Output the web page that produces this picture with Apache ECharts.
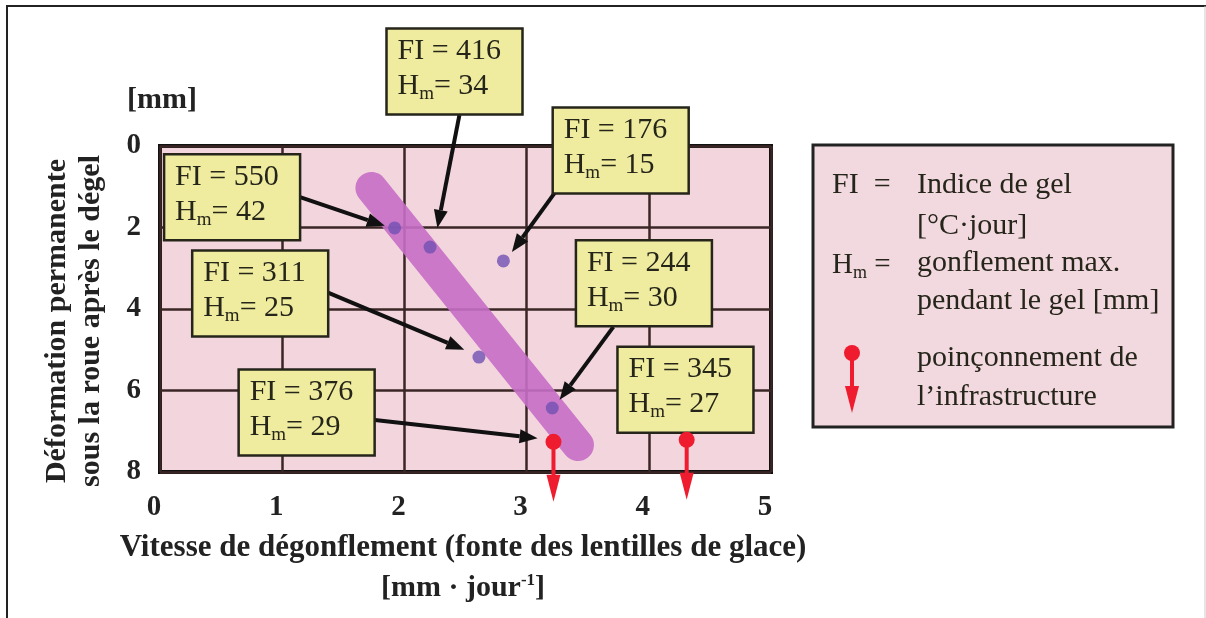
<!DOCTYPE html>
<html>
<head>
    <meta charset="utf-8">
    <title>Déformation permanente et vitesse de dégonflement</title>
    <style>
        html, body { margin: 0; padding: 0; background: #fff; }
        #chart1 { width: 1206px; height: 618px; }
    </style>
</head>
<body>
<div id="chart1"></div>
<script src="https://cdn.jsdelivr.net/npm/echarts@6/dist/echarts.min.js"></script>
<script type="text/javascript">
    // sites mesurés : vitesse de dégonflement [mm/jour], déformation permanente [mm]
    const vitesse = [1.92, 2.21, 2.81, 2.61, 3.21, 3.22, 4.31];
    const deformation = [2.01, 2.48, 2.82, 5.18, 6.43, 7.26, 7.21];
    const indiceGel = [550, 416, 176, 311, 244, 376, 345];
    const gonflementMax = [42, 34, 15, 25, 30, 29, 27];
    const poinconnement = [false, false, false, false, false, true, true];

    // bande de tendance (deux extrémités)
    const bandeX = [1.73, 3.42];
    const bandeY = [1.03, 7.34];

    // placement des étiquettes (en unités des axes)
    const boxPos = [[0.59, 1.26], [2.41, -1.83], [3.77, 0.11], [0.82, 3.62], [3.96, 3.37], [1.20, 6.54], [4.30, 5.98]];
    const arrowFrom = [[1.14, 1.25], [2.45, -0.76], [3.23, 1.15], [1.36, 3.58], [3.71, 4.44], [1.74, 6.72], null];
    const arrowTo = [[1.84, 1.96], [2.27, 2.01], [2.88, 2.60], [2.49, 5.0], [3.27, 6.23], [3.09, 7.17], null];

    const serif = '"Liberation Serif", "Times New Roman", serif';
    const ink = '#26251a';

    let myChart1 = echarts.init(document.getElementById('chart1'));

    // flèche rouge : poinçonnement de l'infrastructure
    function punchShape(x, y) {
        return [
            {type: 'rect', shape: {x: x - 2, y: y + 4, width: 4, height: 32}, style: {fill: '#ee1c2e'}},
            {type: 'polygon', shape: {points: [[x - 7, y + 33], [x + 7, y + 33], [x, y + 60]]}, style: {fill: '#ee1c2e'}},
            {type: 'circle', shape: {cx: x, cy: y, r: 8}, style: {fill: '#ee1c2e'}}
        ];
    }

    function hmRich(size) {
        return {
            t: {fontSize: size, lineHeight: size + 5, fontFamily: serif, fill: ink},
            s: {fontSize: Math.round(size * 0.63), lineHeight: 14, verticalAlign: 'bottom', fontFamily: serif, fill: ink}
        };
    }

    function drawNote(params, api) {
        const i = params.dataIndex;
        const c = api.coord(boxPos[i]);
        const w = 136, h = 86;
        const children = [];
        if (arrowFrom[i]) {
            const a = api.coord(arrowFrom[i]);
            const b = api.coord(arrowTo[i]);
            const ang = Math.atan2(b[1] - a[1], b[0] - a[0]);
            const L = 18, W = 7;
            const bx = b[0] - L * Math.cos(ang), by = b[1] - L * Math.sin(ang);
            children.push({type: 'line', shape: {x1: a[0], y1: a[1], x2: bx, y2: by}, style: {stroke: '#111', lineWidth: 4}});
            children.push({
                type: 'polygon',
                shape: {points: [b, [bx + W * Math.sin(ang), by - W * Math.cos(ang)], [bx - W * Math.sin(ang), by + W * Math.cos(ang)]]},
                style: {fill: '#111'}
            });
        }
        children.push({
            type: 'rect',
            shape: {x: c[0] - w / 2, y: c[1] - h / 2, width: w, height: h},
            style: {fill: '#efec9f', stroke: ink, lineWidth: 2.5}
        });
        children.push({
            type: 'text',
            x: c[0] - w / 2 + 11,
            y: c[1] - h / 2 + 5,
            style: {
                text: '{t|FI = ' + indiceGel[i] + '}\n{t|H}{s|m}{t|= ' + gonflementMax[i] + '}',
                rich: hmRich(30),
                fill: ink
            }
        });
        return {type: 'group', children: children};
    }

    function drawPunch(params, api) {
        const p = api.coord([api.value(0), api.value(1)]);
        return {type: 'group', children: punchShape(p[0], p[1])};
    }

    const sites = vitesse.map((v, i) => [v, deformation[i]]);
    const legendFont = '30px ' + serif;

    myChart1.setOption({
        animation: false,
        grid: {
            left: 160, right: 435, top: 146, bottom: 146,
            show: true,
            backgroundColor: '#f3d5de',
            borderColor: '#111',
            borderWidth: 4
        },
        xAxis: {
            type: 'value', min: 0, max: 5, interval: 1,
            axisLine: {show: false},
            axisTick: {show: false},
            splitLine: {lineStyle: {color: '#3b2626', width: 2.5}},
            axisLabel: {
                margin: 21, padding: [0, 12, 0, 0],
                fontSize: 29, fontWeight: 'bold', fontFamily: serif, color: '#222'
            }
        },
        yAxis: {
            type: 'value', min: 0, max: 8, interval: 2, inverse: true,
            axisLine: {show: false},
            axisTick: {show: false},
            splitLine: {lineStyle: {color: '#3b2626', width: 2.5}},
            axisLabel: {margin: 19, fontSize: 29, fontWeight: 'bold', fontFamily: serif, color: '#222'}
        },
        series: [
            {
                name: 'bande',
                type: 'line',
                data: bandeX.map((x, i) => [x, bandeY[i]]),
                symbol: 'none',
                z: 2,
                lineStyle: {width: 32, color: 'rgba(198, 110, 198, 0.9)', cap: 'round'}
            },
            {
                name: 'sites',
                type: 'scatter',
                data: sites.filter((s, i) => !poinconnement[i]),
                symbolSize: 13,
                z: 3,
                itemStyle: {color: '#7050b2'}
            },
            {
                name: 'étiquettes',
                type: 'custom',
                data: sites,
                renderItem: drawNote,
                z: 4
            },
            {
                name: 'poinçonnement',
                type: 'custom',
                data: sites.filter((s, i) => poinconnement[i]),
                renderItem: drawPunch,
                z: 5
            }
        ],
        graphic: [
            // cadre extérieur
            {type: 'polyline', shape: {points: [[7, 618], [7, 6], [1206, 6]]}, style: {stroke: '#222', lineWidth: 2, fill: null}},
            {type: 'line', shape: {x1: 1205, y1: 6, x2: 1205, y2: 618}, style: {stroke: '#ccc', lineWidth: 1}},
            // titres des axes
            {
                type: 'text', x: 162, y: 100,
                style: {text: '[mm]', font: 'bold 30px ' + serif, fill: '#222', align: 'center', verticalAlign: 'middle', textAlign: 'center', textVerticalAlign: 'middle'}
            },
            {
                type: 'text', x: 74, y: 321, rotation: Math.PI / 2,
                style: {
                    text: 'Déformation permanente\nsous la roue après le dégel',
                    font: 'bold 30px ' + serif, lineHeight: 34, fill: '#222',
                    align: 'center', verticalAlign: 'middle', textAlign: 'center', textVerticalAlign: 'middle'
                }
            },
            {
                type: 'text', x: 463, y: 548,
                style: {
                    text: 'Vitesse de dégonflement (fonte des lentilles de glace)',
                    font: 'bold 31px ' + serif, fill: '#222',
                    align: 'center', verticalAlign: 'middle', textAlign: 'center', textVerticalAlign: 'middle'
                }
            },
            {
                type: 'text', x: 463, y: 588,
                style: {
                    text: '{a|[mm · jour}{s|-1}{a|]}',
                    rich: {
                        a: {fontSize: 30, fontWeight: 'bold', fontFamily: serif, lineHeight: 32, fill: '#222'},
                        s: {fontSize: 17, fontWeight: 'bold', fontFamily: serif, lineHeight: 17, verticalAlign: 'top', fill: '#222'}
                    },
                    align: 'center', verticalAlign: 'middle', textAlign: 'center', textVerticalAlign: 'middle'
                }
            },
            // légende
            {type: 'rect', shape: {x: 813, y: 145, width: 360, height: 282}, style: {fill: '#f2d8df', stroke: '#222', lineWidth: 3}},
            {type: 'text', x: 832, y: 185, style: {text: 'FI  =', font: legendFont, fill: ink, verticalAlign: 'middle', textVerticalAlign: 'middle'}},
            {type: 'text', x: 917, y: 185, style: {text: 'Indice de gel', font: legendFont, fill: ink, verticalAlign: 'middle', textVerticalAlign: 'middle'}},
            {type: 'text', x: 917, y: 226, style: {text: '[°C·jour]', font: legendFont, fill: ink, verticalAlign: 'middle', textVerticalAlign: 'middle'}},
            {
                type: 'text', x: 832, y: 265,
                style: {text: '{t|H}{s|m}{t| =}', rich: hmRich(29), fill: ink, verticalAlign: 'middle', textVerticalAlign: 'middle'}
            },
            {type: 'text', x: 917, y: 263, style: {text: 'gonflement max.', font: legendFont, fill: ink, verticalAlign: 'middle', textVerticalAlign: 'middle'}},
            {type: 'text', x: 917, y: 301, style: {text: 'pendant le gel [mm]', font: legendFont, fill: ink, verticalAlign: 'middle', textVerticalAlign: 'middle'}},
            {type: 'text', x: 917, y: 358, style: {text: 'poinçonnement de', font: legendFont, fill: ink, verticalAlign: 'middle', textVerticalAlign: 'middle'}},
            {type: 'text', x: 917, y: 397, style: {text: 'l’infrastructure', font: legendFont, fill: ink, verticalAlign: 'middle', textVerticalAlign: 'middle'}},
            {type: 'group', children: punchShape(852, 353)}
        ]
    });
</script>
</body>
</html>
